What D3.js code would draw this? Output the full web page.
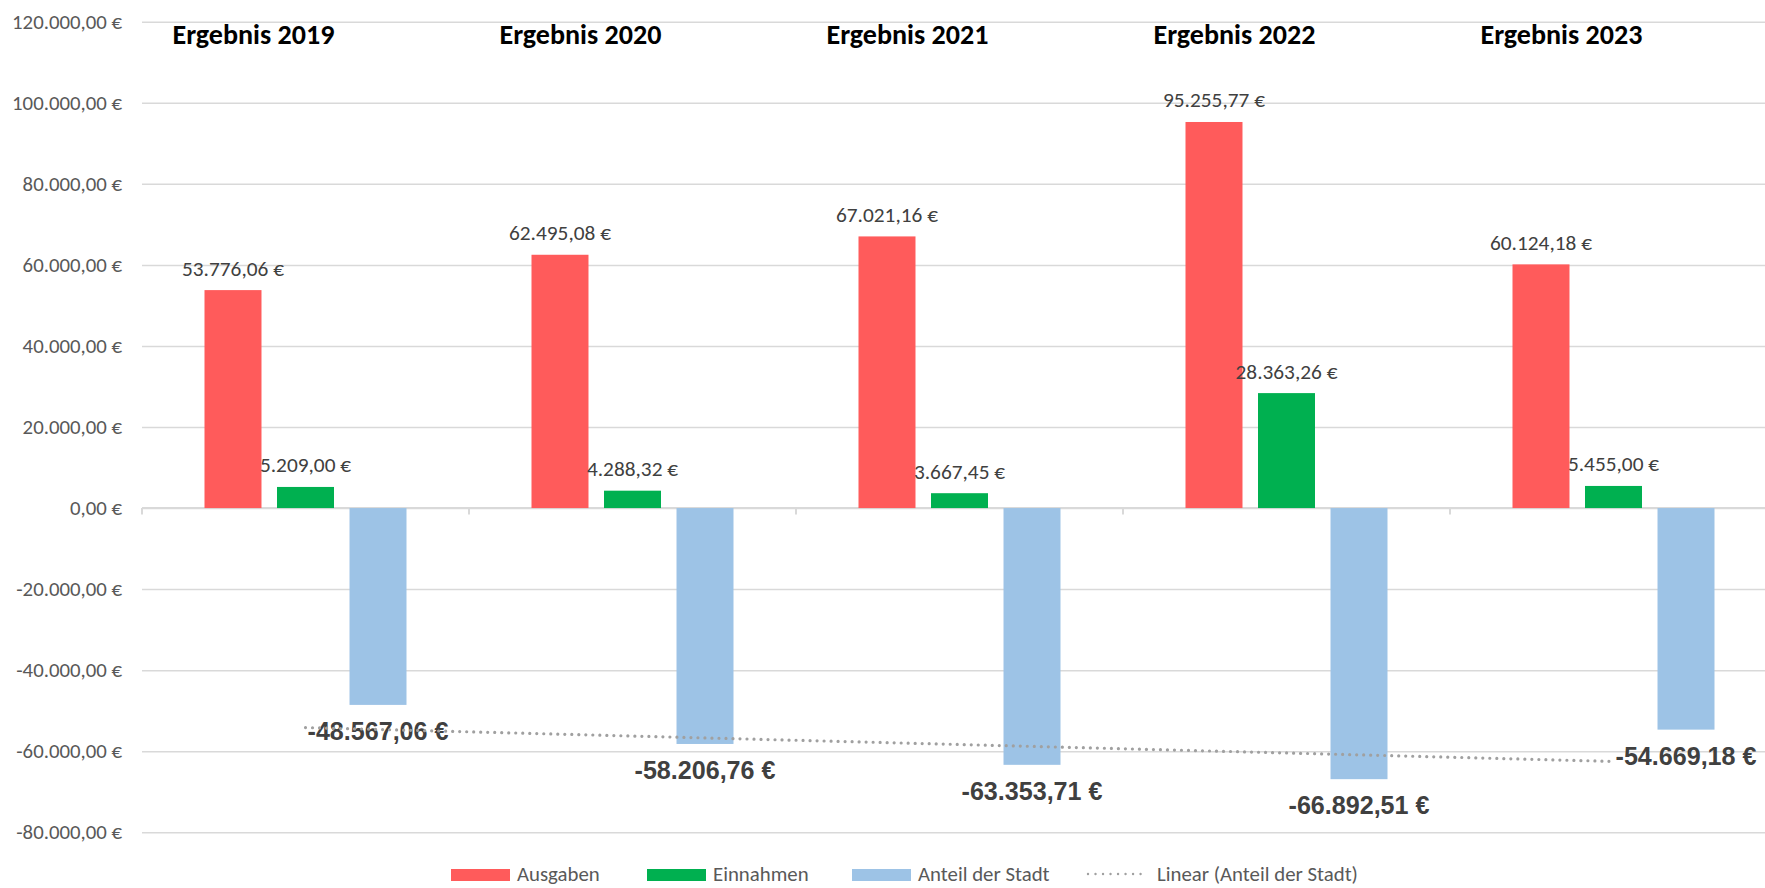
<!DOCTYPE html>
<html><head><meta charset="utf-8">
<script src="https://cdn.jsdelivr.net/npm/d3@7"></script>
<style>body{margin:0;background:#fff;} svg{display:block;}</style>
</head><body><svg id="c" width="1765" height="888"></svg>
<script>
const categories = ["2019", "2020", "2021", "2022", "2023"];
const titles = ["Ergebnis 2019", "Ergebnis 2020", "Ergebnis 2021", "Ergebnis 2022", "Ergebnis 2023"];
const seriesNames = ["Ausgaben", "Einnahmen", "Anteil der Stadt"];
const ausgaben = [53776.06, 62495.08, 67021.16, 95255.77, 60124.18];
const einnahmen = [5209.00, 4288.32, 3667.45, 28363.26, 5455.00];
const anteilStadt = [-48567.06, -58206.76, -63353.71, -66892.51, -54669.18];
const yTickValues = [-80000, -60000, -40000, -20000, 0, 20000, 40000, 60000, 80000, 100000, 120000];
const trendName = "Linear (Anteil der Stadt)";

const W = 1765, H = 888;
const plot = {left: 142, right: 1777, top: 21.7, bottom: 832.3};
const svg = d3.select("#c");
svg.append("rect").attr("width", W).attr("height", H).attr("fill", "#fff");

const de = d3.formatLocale({decimal: ",", thousands: ".", grouping: [3], currency: ["", ""], minus: "-"});
const fmt2 = de.format(",.2f");
const fmt = v => fmt2(v) + " €";

const SANS = "Carlito, Lato, sans-serif";
const ARIAL = "'Liberation Sans', Arial, sans-serif";
function fit(family, weight, sample, target) {
  const t = svg.append("text").attr("font-family", family).attr("font-weight", weight)
    .attr("font-size", 100).text(sample);
  const w = t.node().getComputedTextLength();
  t.remove();
  return 100 * target / w;
}
const axisSize = fit(SANS, 400, "120.000,00 €", 110);
const labelSize = fit(SANS, 400, "53.776,06 €", 102);
const titleSize = fit(SANS, 700, "Ergebnis 2019", 162);
const legendSize = fit(SANS, 400, trendName, 201);
const boldSize = fit(ARIAL, 700, "-48.567,06 €", 141);

const y = d3.scaleLinear().domain([-80000, 120000]).range([plot.bottom, plot.top]);
const x0 = d3.scaleBand().domain(categories).range([plot.left, plot.right]);
const x1 = d3.scaleBand().domain(seriesNames).range([0, x0.bandwidth()]).paddingInner(0.214).paddingOuter(0.862);
const colors = {"Ausgaben": "#FF5B5B", "Einnahmen": "#00B050", "Anteil der Stadt": "#9DC3E6"};
const seriesValues = {"Ausgaben": ausgaben, "Einnahmen": einnahmen, "Anteil der Stadt": anteilStadt};

// gridlines
const grid = svg.append("g").attr("transform", `translate(${plot.left},0)`)
  .call(d3.axisLeft(y).tickValues(yTickValues).tickSize(-(plot.right - plot.left)).tickFormat(""));
grid.select(".domain").remove();
grid.selectAll("line").attr("stroke", "#d9d9d9").attr("stroke-width", 1.5);

// y labels
const yl = svg.append("g").attr("transform", `translate(122,0)`)
  .call(d3.axisLeft(y).tickValues(yTickValues).tickSize(0).tickPadding(0).tickFormat(fmt));
yl.select(".domain").remove();
yl.selectAll("text").attr("font-family", SANS).attr("font-size", axisSize).attr("fill", "#595959");

// category axis at zero
const zeroY = y(0);
svg.append("line").attr("x1", plot.left).attr("x2", plot.right).attr("y1", zeroY).attr("y2", zeroY)
  .attr("stroke", "#d9d9d9").attr("stroke-width", 2);
const boundaries = categories.map(c => x0(c)).concat([plot.right]);
svg.append("g").selectAll("line").data(boundaries).join("line")
  .attr("x1", d => d).attr("x2", d => d).attr("y1", zeroY).attr("y2", zeroY + 6.5)
  .attr("stroke", "#d9d9d9").attr("stroke-width", 2);

// bars
const barData = [];
categories.forEach((c, i) => seriesNames.forEach(s => barData.push({c, s, v: seriesValues[s][i]})));
svg.append("g").selectAll("rect").data(barData).join("rect")
  .attr("x", d => x0(d.c) + x1(d.s))
  .attr("width", x1.bandwidth())
  .attr("y", d => Math.min(y(d.v), zeroY))
  .attr("height", d => Math.abs(y(d.v) - zeroY))
  .attr("fill", d => colors[d.s]);

// trendline (linear regression over category index)
const idx = anteilStadt.map((v, i) => i + 1);
const mx = d3.mean(idx), my = d3.mean(anteilStadt);
const slope = d3.sum(idx, (xv, i) => (xv - mx) * (anteilStadt[i] - my)) / d3.sum(idx, xv => (xv - mx) ** 2);
const icpt = my - slope * mx;
const cx = c => x0(c) + x0.bandwidth() / 2;
const trendPts = [categories[0], categories[categories.length - 1]].map(c => {
  const k = categories.indexOf(c) + 1;
  return [cx(c), y(icpt + slope * k)];
});

// labels
svg.append("g").selectAll("text").data(barData.filter(d => d.v >= 0)).join("text")
  .attr("x", d => x0(d.c) + x1(d.s) + x1.bandwidth() / 2)
  .attr("y", d => y(d.v) - 22)
  .attr("dy", "0.35em")
  .attr("text-anchor", "middle")
  .attr("font-family", SANS).attr("font-size", labelSize).attr("fill", "#404040")
  .text(d => fmt(d.v));
svg.append("g").selectAll("text").data(barData.filter(d => d.v < 0)).join("text")
  .attr("x", d => x0(d.c) + x1(d.s) + x1.bandwidth() / 2)
  .attr("y", d => y(d.v) + 26)
  .attr("dy", "0.36em")
  .attr("text-anchor", "middle")
  .attr("font-family", ARIAL).attr("font-weight", 700).attr("font-size", boldSize).attr("fill", "#404040")
  .text(d => fmt(d.v));

svg.append("path").attr("d", d3.line()(trendPts))
  .attr("fill", "none").attr("stroke", "#A0A0A0").attr("stroke-width", 3.2)
  .attr("stroke-linecap", "round").attr("stroke-dasharray", "0.01 7");

// titles
svg.append("g").selectAll("text").data(categories).join("text")
  .attr("x", c => cx(c) - 52)
  .attr("y", 44)
  .attr("text-anchor", "middle")
  .attr("font-family", SANS).attr("font-weight", 700).attr("font-size", titleSize).attr("fill", "#000")
  .text((c, i) => titles[i]);

// legend
const legY = 874;
const legItems = [
  {name: seriesNames[0], x: 451, type: "rect", color: colors[seriesNames[0]]},
  {name: seriesNames[1], x: 647, type: "rect", color: colors[seriesNames[1]]},
  {name: seriesNames[2], x: 852, type: "rect", color: colors[seriesNames[2]]},
  {name: trendName, x: 1087, type: "line", color: "#A0A0A0"}
];
const lg = svg.append("g").selectAll("g").data(legItems).join("g");
lg.filter(d => d.type === "rect").append("rect")
  .attr("x", d => d.x).attr("y", legY - 5).attr("width", 59).attr("height", 12).attr("fill", d => d.color);
lg.filter(d => d.type === "line").append("line")
  .attr("x1", d => d.x + 1).attr("x2", d => d.x + 61).attr("y1", legY).attr("y2", legY)
  .attr("stroke", d => d.color).attr("stroke-width", 2.4).attr("stroke-linecap", "round").attr("stroke-dasharray", "0.01 7.5");
lg.append("text")
  .attr("x", d => d.type === "rect" ? d.x + 66 : d.x + 70)
  .attr("y", legY).attr("dy", "0.32em")
  .attr("font-family", SANS).attr("font-size", legendSize).attr("fill", "#595959")
  .text(d => d.name);
</script></body></html>
